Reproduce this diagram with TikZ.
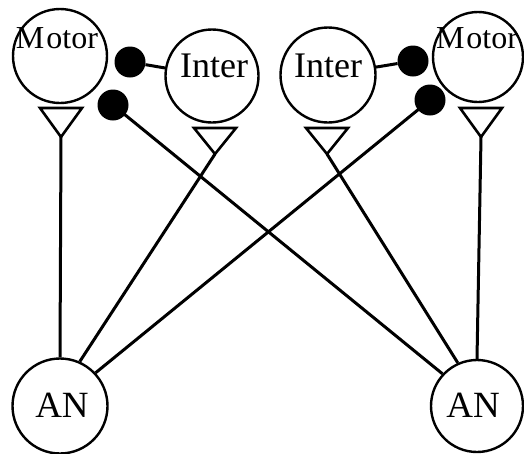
\documentclass[tikz,border=0pt]{standalone}
\usepackage{fontspec}
\setmainfont{Liberation Serif}
\begin{document}
\begin{tikzpicture}[x=1pt,y=-1pt,
  neuron/.style={draw,circle,line width=2.4pt,inner sep=0pt},
  lbl/.style={font=\fontsize{36}{36}\selectfont,inner sep=0pt,anchor=base},
  mlbl/.style={font=\fontsize{32}{32}\selectfont,inner sep=0pt,anchor=base},
  dot/.style={circle,fill=black,inner sep=0pt,minimum size=31pt},
  wire/.style={line width=3pt},
  tri/.style={line width=2.6pt,line join=miter}]
\useasboundingbox (0,0) rectangle (524,453);
% neurons
\node[neuron,minimum size=94pt] (motorL) at (60,56) {};
\node[neuron,minimum size=93pt] (interL) at (212,76) {};
\node[neuron,minimum size=95pt] (interR) at (328,75) {};
\node[neuron,minimum size=90pt] (motorR) at (478,57) {};
\node[neuron,minimum size=95pt] (anL) at (60,406) {};
\node[neuron,minimum size=92pt] (anR) at (477,406) {};
% labels
\node[mlbl] (tMotorL) at (57,48) {M\kern2pt otor};
\node[lbl] (tInterL) at (214,77) {Inter};
\node[lbl] (tInterR) at (328,77) {Inter};
\node[mlbl] (tMotorR) at (477,48) {M\kern2pt otor};
\node[lbl,font=\fontsize{37}{37}\selectfont] (tAnL) at (62,417) {AN};
\node[lbl,font=\fontsize{37}{37}\selectfont] (tAnR) at (473,417) {AN};
% inhibitory dots
\node[dot] (dL1) at (130,62) {};
\node[dot] (dL2) at (113,105) {};
\node[dot] (dR1) at (413,61) {};
\node[dot] (dR2) at (430,100) {};
% excitatory triangles (apex coordinates)
\coordinate (aML) at (61,137);
\coordinate (aIL) at (215,154);
\coordinate (aIR) at (327,154);
\coordinate (aMR) at (481,137);
\draw[tri] (40,108) -- (82,108) -- (aML) -- cycle;
\draw[tri] (194,128) -- (236,128) -- (aIL) -- cycle;
\draw[tri] (306,128) -- (348,128) -- (aIR) -- cycle;
\draw[tri] (460,108) -- (502,108) -- (aMR) -- cycle;
% connectors
\draw[wire] (interL) -- (dL1);
\draw[wire] (interR) -- (dR1);
\draw[wire] (aML) -- (anL.north);
\draw[wire] (aMR) -- (anR.north);
\draw[wire] (aIL) -- (anL.66);
\draw[wire] (dR2.center) -- (anL.43);
\draw[wire] (aIR) -- (anR.114);
\draw[wire] (dL2.center) -- (anR.137);
\end{tikzpicture}
\end{document}
